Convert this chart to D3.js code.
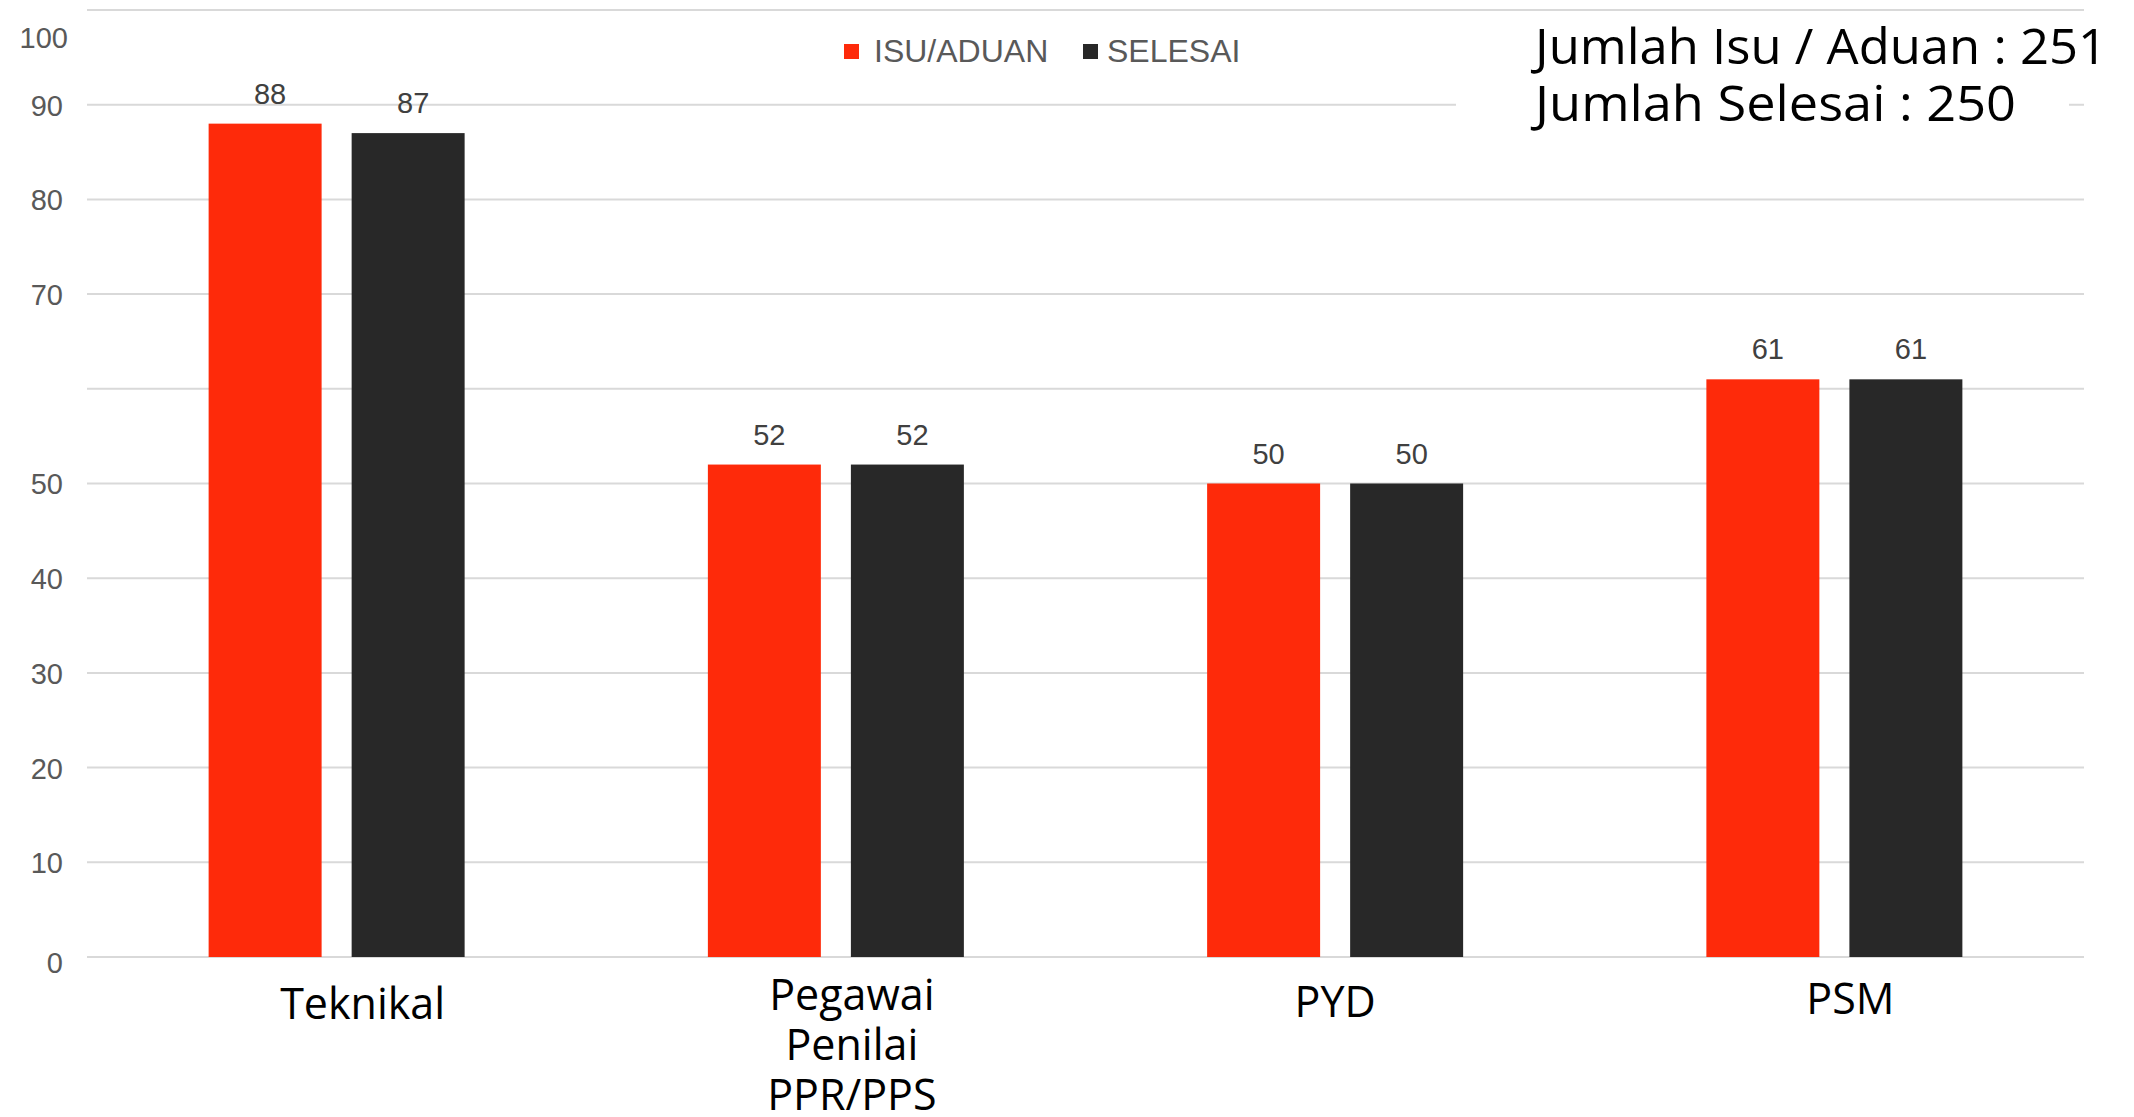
<!DOCTYPE html>
<html>
<head>
<meta charset="utf-8">
<script src="https://cdn.jsdelivr.net/npm/d3@7"></script>
<style>
  html, body { margin: 0; padding: 0; background: #ffffff; }
  svg { display: block; }
</style>
</head>
<body>
<svg id="chart" width="2134" height="1117"></svg>
<script>
// ---- data ----
const categories = ["Teknikal", "Pegawai Penilai PPR/PPS", "PYD", "PSM"];
const categoryLines = [["Teknikal"], ["Pegawai", "Penilai", "PPR/PPS"], ["PYD"], ["PSM"]];
const seriesNames = ["ISU/ADUAN", "SELESAI"];
const isuAduan = [88, 52, 50, 61];
const selesai = [87, 52, 50, 61];
const gridValues = [0, 10, 20, 30, 40, 50, 60, 70, 80, 90, 100];
const tickLabelValues = [0, 10, 20, 30, 40, 50, 70, 80, 90];
const topTickLabel = "100";
const summaryLines = ["Jumlah Isu / Aduan : 251", "Jumlah Selesai : 250"];

// ---- styles ----
const colors = { "ISU/ADUAN": "#FE2A0A", "SELESAI": "#282828" };
const plot = { left: 87, right: 2084, top: 10, bottom: 957 };

const svg = d3.select("#chart");

const x0 = d3.scaleBand().domain(categories).range([plot.left, plot.right]).padding(0);
const groupW = 256;
const x1 = d3.scaleBand().domain(seriesNames).range([0, groupW]).paddingInner(0.21).paddingOuter(0);
const y = d3.scaleLinear().domain([0, 100]).range([plot.bottom, plot.top]);

// gridlines
svg.append("g").selectAll("line").data(gridValues).join("line")
  .attr("x1", plot.left).attr("x2", plot.right)
  .attr("y1", d => y(d)).attr("y2", d => y(d))
  .attr("stroke", "#D9D9D9").attr("stroke-width", 2);

// y tick labels
const yAxis = d3.axisLeft(y).tickValues(tickLabelValues).tickSize(0).tickPadding(0).tickFormat(d3.format("d"));
const ya = svg.append("g").attr("transform", `translate(${63},0)`).call(yAxis);
ya.select(".domain").remove();
ya.selectAll("text")
  .attr("font-family", "Liberation Sans, Arial, sans-serif")
  .attr("font-size", 29).attr("fill", "#595959")
  .attr("dy", d => d === 0 ? "0.55em" : "0.36em");
svg.append("text")
  .attr("x", 68).attr("y", y(100) + 29)
  .attr("dy", "0.32em")
  .attr("text-anchor", "end")
  .attr("font-family", "Liberation Sans, Arial, sans-serif")
  .attr("font-size", 29).attr("fill", "#595959")
  .text(topTickLabel);

// bars
const data = categories.map((c, i) => ({ cat: c, values: [
  { s: "ISU/ADUAN", v: isuAduan[i] }, { s: "SELESAI", v: selesai[i] } ] }));

const groups = svg.append("g").selectAll("g").data(data).join("g")
  .attr("transform", d => `translate(${x0(d.cat) + (x0.bandwidth() - groupW) / 2},0)`);

groups.selectAll("rect").data(d => d.values).join("rect")
  .attr("x", d => x1(d.s)).attr("width", x1.bandwidth())
  .attr("y", d => y(d.v)).attr("height", d => y(0) - y(d.v))
  .attr("fill", d => colors[d.s]);

groups.selectAll("text").data(d => d.values).join("text")
  .attr("x", d => x1(d.s) + x1.bandwidth() / 2 + 5)
  .attr("y", d => y(d.v) - 20)
  .attr("text-anchor", "middle")
  .attr("font-family", "Liberation Sans, Arial, sans-serif")
  .attr("font-size", 29).attr("fill", "#404040")
  .text(d => d.v);

// category labels
const labelOffsets = [26, 16, 0, 16];
const labelBase = [1019, 1010, 1017, 1014];
categories.forEach((c, i) => {
  const t = svg.append("text")
    .attr("text-anchor", "middle")
    .attr("font-family", "Open Sans, sans-serif")
    .attr("font-size", 43).attr("fill", "#000000");
  categoryLines[i].forEach((line, j) => {
    t.append("tspan")
      .attr("x", x0(c) + x0.bandwidth() / 2 + labelOffsets[i])
      .attr("y", labelBase[i] + j * 50)
      .text(line);
  });
});

// legend
const legend = svg.append("g").attr("font-family", "Liberation Sans, Arial, sans-serif");
const legendX = [844, 1083];
seriesNames.forEach((s, i) => {
  legend.append("rect").attr("x", legendX[i]).attr("y", 44).attr("width", 15).attr("height", 15).attr("fill", colors[s]);
  legend.append("text").attr("x", legendX[i] + (i === 0 ? 30 : 24)).attr("y", 62)
    .attr("font-size", 32).attr("fill", "#595959").text(s);
});

// summary box
svg.append("rect").attr("x", 1456).attr("y", 20).attr("width", 613).attr("height", 160).attr("fill", "#ffffff");
const summaryWidths = [572, 481];
summaryLines.forEach((line, i) => {
  svg.append("text").attr("x", 1535).attr("y", 64 + i * 57)
    .attr("font-family", "Open Sans, sans-serif")
    .attr("font-size", 49).attr("fill", "#000000")
    .attr("textLength", summaryWidths[i]).attr("lengthAdjust", "spacingAndGlyphs")
    .text(line);
});
</script>
</body>
</html>
